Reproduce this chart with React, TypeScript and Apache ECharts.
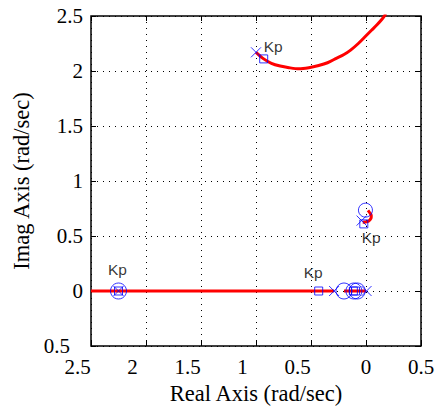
import React, { useEffect, useRef } from 'react';
import * as echarts from 'echarts';

// Axis ranges / ticks
const xRange = [-2.5, 0.5];
const yRange = [-0.5, 2.5];
const tickStep = 0.5;

// Root-locus branches
const upperLocus = [
  [-1.0, 2.17], [-0.93, 2.11], [-0.86, 2.07], [-0.78, 2.045], [-0.7, 2.03],
  [-0.61, 2.02], [-0.52, 2.03], [-0.43, 2.05], [-0.35, 2.075], [-0.27, 2.115],
  [-0.2, 2.15], [-0.14, 2.19], [-0.07, 2.25], [0.0, 2.32], [0.05, 2.37],
  [0.1, 2.42], [0.145, 2.47], [0.18, 2.52],
];
const smallArcLocus = [
  [-0.03, 0.625], [-0.006, 0.627], [0.025, 0.637], [0.045, 0.66],
  [0.048, 0.685], [0.039, 0.705], [0.018, 0.733],
];
const realLocusLeft = [[-2.5, 0], [-0.29, 0]];
const realLocusRight = [[-0.2, 0], [0.0, 0]];

// Markers
const poles = [[-1.0, 2.17], [-0.04, 0.64], [-2.25, 0], [-0.29, 0], [0.005, 0]];
const zeros = [[-0.005, 0.735], [-2.25, 0], [-0.2, 0], [-0.11, 0], [-0.08, 0]];
const gainPoints = [[-0.93, 2.11], [-0.02, 0.61], [-2.25, 0], [-0.43, 0], [-0.115, 0], [-0.095, 0]];

// "Kp" annotations
const kpLabels = [[-0.843, 2.22], [-2.26, 0.2], [-0.48, 0.17], [0.047, 0.49]];
const kpText = 'Kp';

const serif = 'Liberation Serif';
const sans = 'Liberation Sans';

export default function App() {
  const ref = useRef<HTMLDivElement>(null);

  useEffect(() => {
    if (!ref.current) return;
    const chart = echarts.init(ref.current, undefined, { renderer: 'svg' });

    const tickFont = { fontFamily: serif, fontSize: 21, color: '#000' };
    const fmt = (v: number) =>
      v < 0 ? `{n|${String(Math.abs(v))}}` : `{p|${String(v)}}`;

    const tick = { show: true, inside: true, length: 5, lineStyle: { color: '#000', width: 1 } };
    const dotted = { show: true, lineStyle: { color: '#000', width: 1, type: [1, 5] as any } };
    const noLine = { show: false, onZero: false };

    const blueStyle = { color: 'none', borderColor: '#0000ff', borderWidth: 1 };

    chart.setOption({
      animation: false,
      backgroundColor: '#fff',
      grid: {
        left: 91, top: 16, right: 14, bottom: 61,
        show: true, borderColor: '#000', borderWidth: 1.5,
        containLabel: false, outerBoundsMode: 'none',
      },
      xAxis: [
        {
          type: 'value', min: xRange[0], max: xRange[1], interval: tickStep,
          position: 'bottom',
          axisLine: noLine,
          axisTick: tick,
          axisLabel: {
            margin: 10, ...tickFont, formatter: fmt,
            rich: {
              n: { ...tickFont, padding: [0, 27, 0, 0] },
              p: { ...tickFont },
            },
          },
          splitLine: dotted,
          name: 'Real Axis (rad/sec)', nameLocation: 'middle', nameGap: 35,
          nameTextStyle: { fontFamily: serif, fontSize: 22.5, color: '#000' },
        },
        {
          type: 'value', min: xRange[0], max: xRange[1], interval: tickStep,
          position: 'top',
          axisLine: noLine, axisTick: tick,
          axisLabel: { show: false }, splitLine: { show: false },
        },
      ],
      yAxis: [
        {
          type: 'value', min: yRange[0], max: yRange[1], interval: tickStep,
          position: 'left',
          axisLine: noLine,
          axisTick: tick,
          axisLabel: {
            margin: 8, ...tickFont, formatter: fmt,
            rich: {
              n: { ...tickFont, padding: [0, 13, 0, 0] },
              p: { ...tickFont },
            },
          },
          splitLine: dotted,
          name: 'Imag Axis (rad/sec)', nameLocation: 'middle', nameGap: 55,
          nameTextStyle: { fontFamily: serif, fontSize: 22.5, color: '#000' },
        },
        {
          type: 'value', min: yRange[0], max: yRange[1], interval: tickStep,
          position: 'right',
          axisLine: noLine, axisTick: tick,
          axisLabel: { show: false }, splitLine: { show: false },
        },
      ],
      series: [
        {
          type: 'line', data: upperLocus, showSymbol: false, smooth: 0.3, silent: true,
          lineStyle: { color: '#ff0000', width: 3 }, z: 2,
        },
        {
          type: 'line', data: smallArcLocus, showSymbol: false, smooth: 0.3, silent: true,
          lineStyle: { color: '#ff0000', width: 3 }, z: 2,
        },
        {
          type: 'line', data: realLocusLeft, showSymbol: false, silent: true,
          lineStyle: { color: '#ff0000', width: 3 }, z: 2,
        },
        {
          type: 'line', data: realLocusRight, showSymbol: false, silent: true,
          lineStyle: { color: '#ff0000', width: 3 }, z: 2,
        },
        {
          type: 'scatter', data: zeros, symbol: 'circle', silent: true,
          symbolSize: (v: number[]) => (v[1] === 0 ? 16 : 14),
          itemStyle: blueStyle, z: 3,
        },
        {
          type: 'scatter', data: gainPoints, symbol: 'rect', symbolSize: 8, silent: true,
          itemStyle: blueStyle, z: 3,
        },
        {
          type: 'scatter', data: poles, symbol: 'path://M0 0L10 10M10 0L0 10',
          symbolSize: 10, silent: true,
          itemStyle: blueStyle, z: 3,
        },
        {
          type: 'scatter', data: kpLabels, symbolSize: 0, silent: true, z: 4,
          itemStyle: { color: '#000' },
          label: {
            show: true, position: 'inside', formatter: kpText,
            fontFamily: sans, fontSize: 15.5, color: '#000',
            textBorderWidth: 0, textBorderColor: 'transparent',
          },
        },
      ],
    });

    return () => chart.dispose();
  }, []);

  return (
    <div
      ref={ref}
      style={{ position: 'absolute', left: 0, top: 0, width: 435, height: 407 }}
    />
  );
}
